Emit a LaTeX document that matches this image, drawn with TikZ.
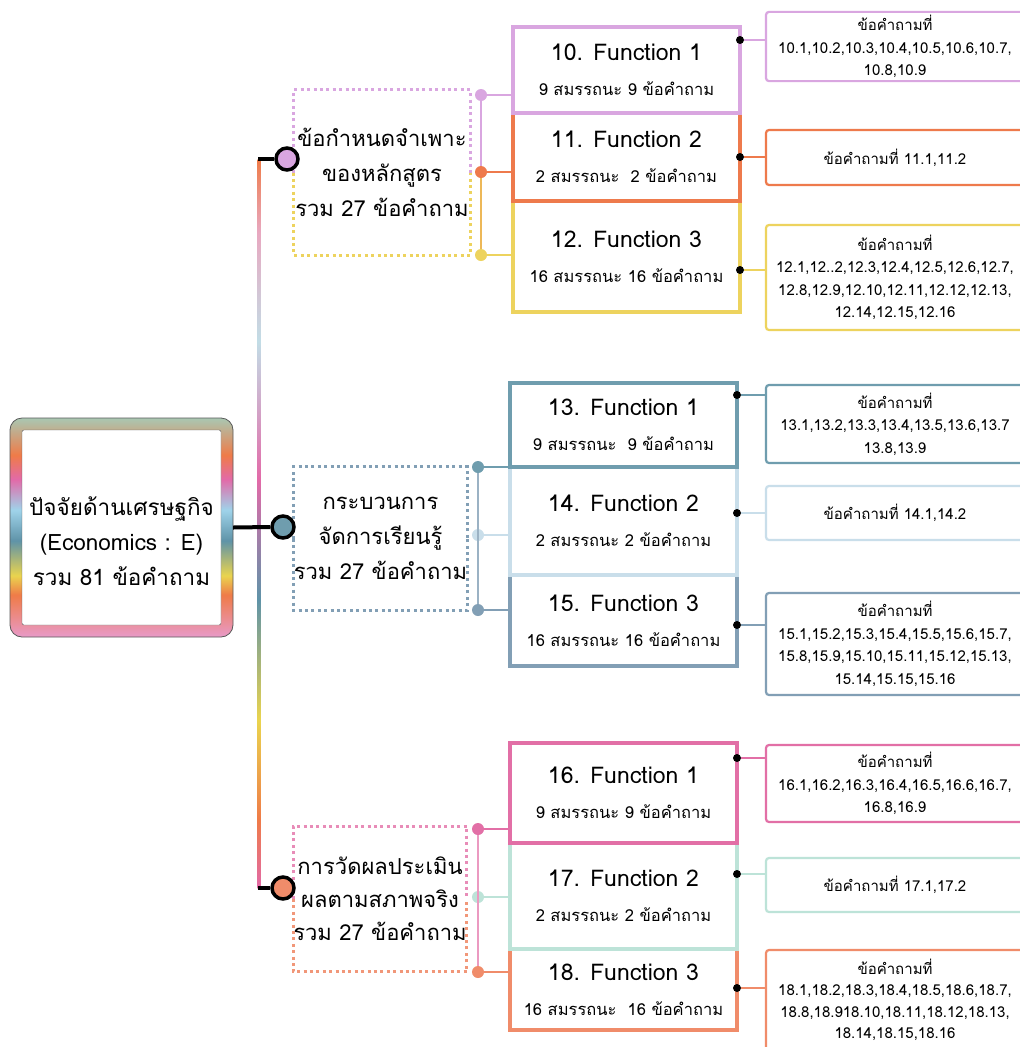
\documentclass[tikz,border=0pt]{standalone}
\usepackage{fontspec}
\setmainfont[Script=Thai]{Loma}

\definecolor{rbPink}{HTML}{E89AC8}
\definecolor{rbOrange}{HTML}{EF7B48}
\definecolor{rbYellow}{HTML}{EAD44E}
\definecolor{rbTeal}{HTML}{5F93A8}
\definecolor{rbBlue}{HTML}{9FD3EA}
\definecolor{rbMagenta}{HTML}{E26AA8}
\definecolor{rbSage}{HTML}{A9C7B2}
\definecolor{trBlue}{HTML}{C2DDE6}
\definecolor{trRose}{HTML}{E8A8C0}

\definecolor{cPur}{HTML}{D9A6E0}
\definecolor{cOra}{HTML}{EE7A4C}
\definecolor{cYel}{HTML}{EDD35E}
\definecolor{cTeal}{HTML}{6F9DAE}
\definecolor{cSky}{HTML}{C9DEEA}
\definecolor{cSlate}{HTML}{829FB5}
\definecolor{cPink}{HTML}{E26FA6}
\definecolor{cMint}{HTML}{BDE3D8}
\definecolor{cSalm}{HTML}{F08C6A}

\pgfdeclareverticalshading{rootband}{100bp}{color(0bp)=(rbPink); color(25bp)=(rbPink); color(34.6bp)=(rbOrange); color(39bp)=(rbYellow); color(47bp)=(rbTeal); color(54bp)=(rbBlue); color(61bp)=(rbMagenta); color(66.5bp)=(rbOrange); color(75bp)=(rbSage); color(100bp)=(rbSage)}
\pgfdeclareverticalshading{trunkband}{100bp}{color(0bp)=(rbMagenta); color(25bp)=(rbMagenta); color(29.7bp)=(rbOrange); color(36.5bp)=(rbYellow); color(44.8bp)=(rbTeal); color(53bp)=(rbMagenta); color(62.5bp)=(trBlue); color(70bp)=(trRose); color(75bp)=(rbOrange); color(100bp)=(rbOrange)}

\newcommand{\fnTitle}{\fontsize{23}{35}\selectfont}

\begin{document}
\begin{tikzpicture}[x=1pt,y=-1pt,
    fcell/.style={draw, line width=3.2pt, fill=white, minimum width=227pt, inner sep=2pt, align=center, font=\fontsize{16.5}{35}\selectfont},
    qbox/.style={draw, line width=2.2pt, rounded corners=3pt, fill=white, minimum width=258pt, align=center, font=\fontsize{15}{22.5}\selectfont},
    grpbox/.style={align=center, font=\fontsize{22}{35}\selectfont, inner sep=0pt},
    hub/.style={circle, draw=black, line width=3.5pt, minimum size=22pt, inner sep=0pt},
    pin/.style={circle, fill=black, minimum size=8pt, inner sep=0pt},
    tap/.style={circle, minimum size=12pt, inner sep=0pt},
    branch/.style={line width=4pt, black},
    link/.style={line width=2pt},
    dotline/.style={line width=3pt, dash pattern=on 3pt off 3.4pt}]
  \useasboundingbox[fill=white] (0,0) rectangle (1020,1047);

  % root box
  \shade[shading=rootband, rounded corners=12pt, draw=black!65, line width=0.8pt] (10,418) rectangle (233,637);
  \node[draw=black!65, fill=white, rounded corners=2pt, minimum width=199pt, minimum height=195pt] (root) at (121.5,527.5) {};
  \node[align=center, font=\fontsize{22.5}{35}\selectfont] (rootText) at ([yshift=-14pt]root.center)
        {ปัจจัยด้านเศรษฐกิจ\\(Economics : E)\\รวม 81 ข้อคำถาม};

  % trunk
  \shade[shading=trunkband] (257.5,159) rectangle (260.5,888);
  \coordinate (tTop) at (258,159);
  \coordinate (tBot) at (258,888);

  % group boxes
  \node[grpbox, minimum width=176pt, minimum height=165pt] (spec) at (382,172.5)
        {ข้อกำหนดจำเพาะ\\ของหลักสูตร\\รวม 27 ข้อคำถาม};
  \draw[dotline, cPur] (spec.west) |- (spec.north east) -- (spec.east);
  \draw[dotline, cYel] (spec.west) |- (spec.south east) -- (spec.east);

  \node[grpbox, minimum width=173pt, minimum height=143pt] (learn) at (380.5,538.5)
        {กระบวนการ\\จัดการเรียนรู้\\รวม 27 ข้อคำถาม};
  \draw[dotline, cSlate] (learn.west) |- (learn.north east) -- (learn.east);
  \draw[dotline, cSlate] (learn.west) |- (learn.south east) -- (learn.east);

  \node[grpbox, minimum width=172pt, minimum height=145pt, font=\fontsize{22}{33}\selectfont] (assess) at (380,899)
        {การวัดผลประเมิน\\ผลตามสภาพจริง\\รวม 27 ข้อคำถาม};
  \draw[dotline, cPink!80] (assess.west) |- (assess.north east) -- (assess.east);
  \draw[dotline, cSalm!90] (assess.west) |- (assess.south east) -- (assess.east);

  % hubs and branches
  \node[hub, fill=cPur] (h1) at (287,159) {};
  \node[hub, fill=cTeal] (h2) at (283,527) {};
  \node[hub, fill=cSalm] (h3) at (283,888) {};
  \draw[branch] (tTop) -- (h1.west);
  \draw[branch] ([xshift=12pt]root.east) -- (h2.west);
  \draw[branch] (tBot) -- (h3.west);

  % functions 10-12
  \node[fcell, draw=cYel, minimum height=111pt] (f12) at (626.5,256.5) {{\fnTitle 12. Function 3}\\16 สมรรถนะ 16 ข้อคำถาม};
  \node[fcell, draw=cOra, minimum height=88pt] (f11) at (626.5,157) {{\fnTitle 11. Function 2}\\2 สมรรถนะ \ 2 ข้อคำถาม};
  \node[fcell, draw=cPur, minimum height=86pt] (f10) at (626.5,70) {{\fnTitle 10. Function 1}\\9 สมรรถนะ 9 ข้อคำถาม};

  % functions 13-15
  \node[fcell, draw=cSlate, minimum height=91pt] (f15) at (623.5,620.5) {{\fnTitle 15. Function 3}\\16 สมรรถนะ 16 ข้อคำถาม};
  \node[fcell, draw=cSky, minimum height=108pt] (f14) at (623.5,521) {{\fnTitle 14. Function 2}\\2 สมรรถนะ 2 ข้อคำถาม};
  \node[fcell, draw=cTeal, minimum height=84pt] (f13) at (623.5,425) {{\fnTitle 13. Function 1}\\9 สมรรถนะ \ 9 ข้อคำถาม};

  % functions 16-18
  \node[fcell, draw=cSalm, minimum height=81pt] (f18) at (623.5,989.5) {{\fnTitle 18. Function 3}\\16 สมรรถนะ \ 16 ข้อคำถาม};
  \node[fcell, draw=cMint, minimum height=106pt] (f17) at (623.5,896) {{\fnTitle 17. Function 2}\\2 สมรรถนะ 2 ข้อคำถาม};
  \node[fcell, draw=cPink, minimum height=100pt] (f16) at (623.5,793) {{\fnTitle 16. Function 1}\\9 สมรรถนะ 9 ข้อคำถาม};

  % taps on the left
  \node[tap, fill=cPur] (b10) at (481,95) {};
  \node[tap, fill=cOra] (b11) at (481,172) {};
  \node[tap, fill=cYel] (b12) at (481,255) {};
  \draw[link, cPur] (b10) -- (b11);
  \draw[link, cYel!70!cOra] (b11) -- (b12);
  \draw[link, cPur] (b10) -- (b10 -| f10.west);
  \draw[link, cOra] (b11) -- (b11 -| f11.west);
  \draw[link, cYel] (b12) -- (b12 -| f12.west);

  \node[tap, fill=cTeal] (b13) at (478,467) {};
  \node[tap, fill=cSky] (b14) at (478,535) {};
  \node[tap, fill=cSlate] (b15) at (478,610) {};
  \draw[link, cSlate!80] (b13) -- (b15);
  \draw[link, cTeal] (b13) -- (b13 -| f13.west);
  \draw[link, cSky] (b14) -- (b14 -| f14.west);
  \draw[link, cSlate] (b15) -- (b15 -| f15.west);

  \node[tap, fill=cPink] (b16) at (478,829) {};
  \node[tap, fill=cMint] (b17) at (478,897) {};
  \node[tap, fill=cSalm] (b18) at (478,972) {};
  \draw[link, cPink!70] (b16) -- (b18);
  \draw[link, cPink] (b16) -- (b16 -| f16.west);
  \draw[link, cMint] (b17) -- (b17 -| f17.west);
  \draw[link, cSalm] (b18) -- (b18 -| f18.west);

  % question boxes
  \node[qbox, draw=cPur, minimum height=69pt] (q10) at (895,46.5) {ข้อคำถามที่\\10.1,10.2,10.3,10.4,10.5,10.6,10.7,\\10.8,10.9};
  \node[qbox, draw=cOra, minimum height=55pt] (q11) at (895,157.5) {ข้อคำถามที่ 11.1,11.2};
  \node[qbox, draw=cYel, minimum height=105pt] (q12) at (895,277.5) {ข้อคำถามที่\\12.1,12..2,12.3,12.4,12.5,12.6,12.7,\\12.8,12.9,12.10,12.11,12.12,12.13,\\12.14,12.15,12.16};
  \node[qbox, draw=cTeal, minimum height=78pt] (q13) at (895,424) {ข้อคำถามที่\\13.1,13.2,13.3,13.4,13.5,13.6,13.7\\13.8,13.9};
  \node[qbox, draw=cSky, minimum height=54pt] (q14) at (895,513) {ข้อคำถามที่ 14.1,14.2};
  \node[qbox, draw=cSlate, minimum height=102pt] (q15) at (895,644) {ข้อคำถามที่\\15.1,15.2,15.3,15.4,15.5,15.6,15.7,\\15.8,15.9,15.10,15.11,15.12,15.13,\\15.14,15.15,15.16};
  \node[qbox, draw=cPink, minimum height=77pt] (q16) at (895,783.5) {ข้อคำถามที่\\16.1,16.2,16.3,16.4,16.5,16.6,16.7,\\16.8,16.9};
  \node[qbox, draw=cMint, minimum height=54pt] (q17) at (895,885) {ข้อคำถามที่ 17.1,17.2};
  \node[qbox, draw=cSalm, minimum height=100pt, font=\fontsize{15}{21.5}\selectfont] (q18) at (895,1000) {ข้อคำถามที่\\18.1,18.2,18.3,18.4,18.5,18.6,18.7,\\18.8,18.918.10,18.11,18.12,18.13,\\18.14,18.15,18.16};

  % pins on the right
  \node[pin] (p10) at (740,40) {};
  \node[pin] (p11) at (740,157) {};
  \node[pin] (p12) at (740,270) {};
  \node[pin] (p13) at (737,395) {};
  \node[pin] (p14) at (737,513) {};
  \node[pin] (p15) at (737,625) {};
  \node[pin] (p16) at (737,758) {};
  \node[pin] (p17) at (737,874) {};
  \node[pin] (p18) at (737,988) {};
  \draw[link, cPur] (p10) -- (p10 -| q10.west);
  \draw[link, cOra] (p11) -- (p11 -| q11.west);
  \draw[link, cYel] (p12) -- (p12 -| q12.west);
  \draw[link, cTeal] (p13) -- (p13 -| q13.west);
  \draw[link, cSky] (p14) -- (p14 -| q14.west);
  \draw[link, cSlate] (p15) -- (p15 -| q15.west);
  \draw[link, cPink] (p16) -- (p16 -| q16.west);
  \draw[link, cMint] (p17) -- (p17 -| q17.west);
  \draw[link, cSalm] (p18) -- (p18 -| q18.west);
\end{tikzpicture}
\end{document}
